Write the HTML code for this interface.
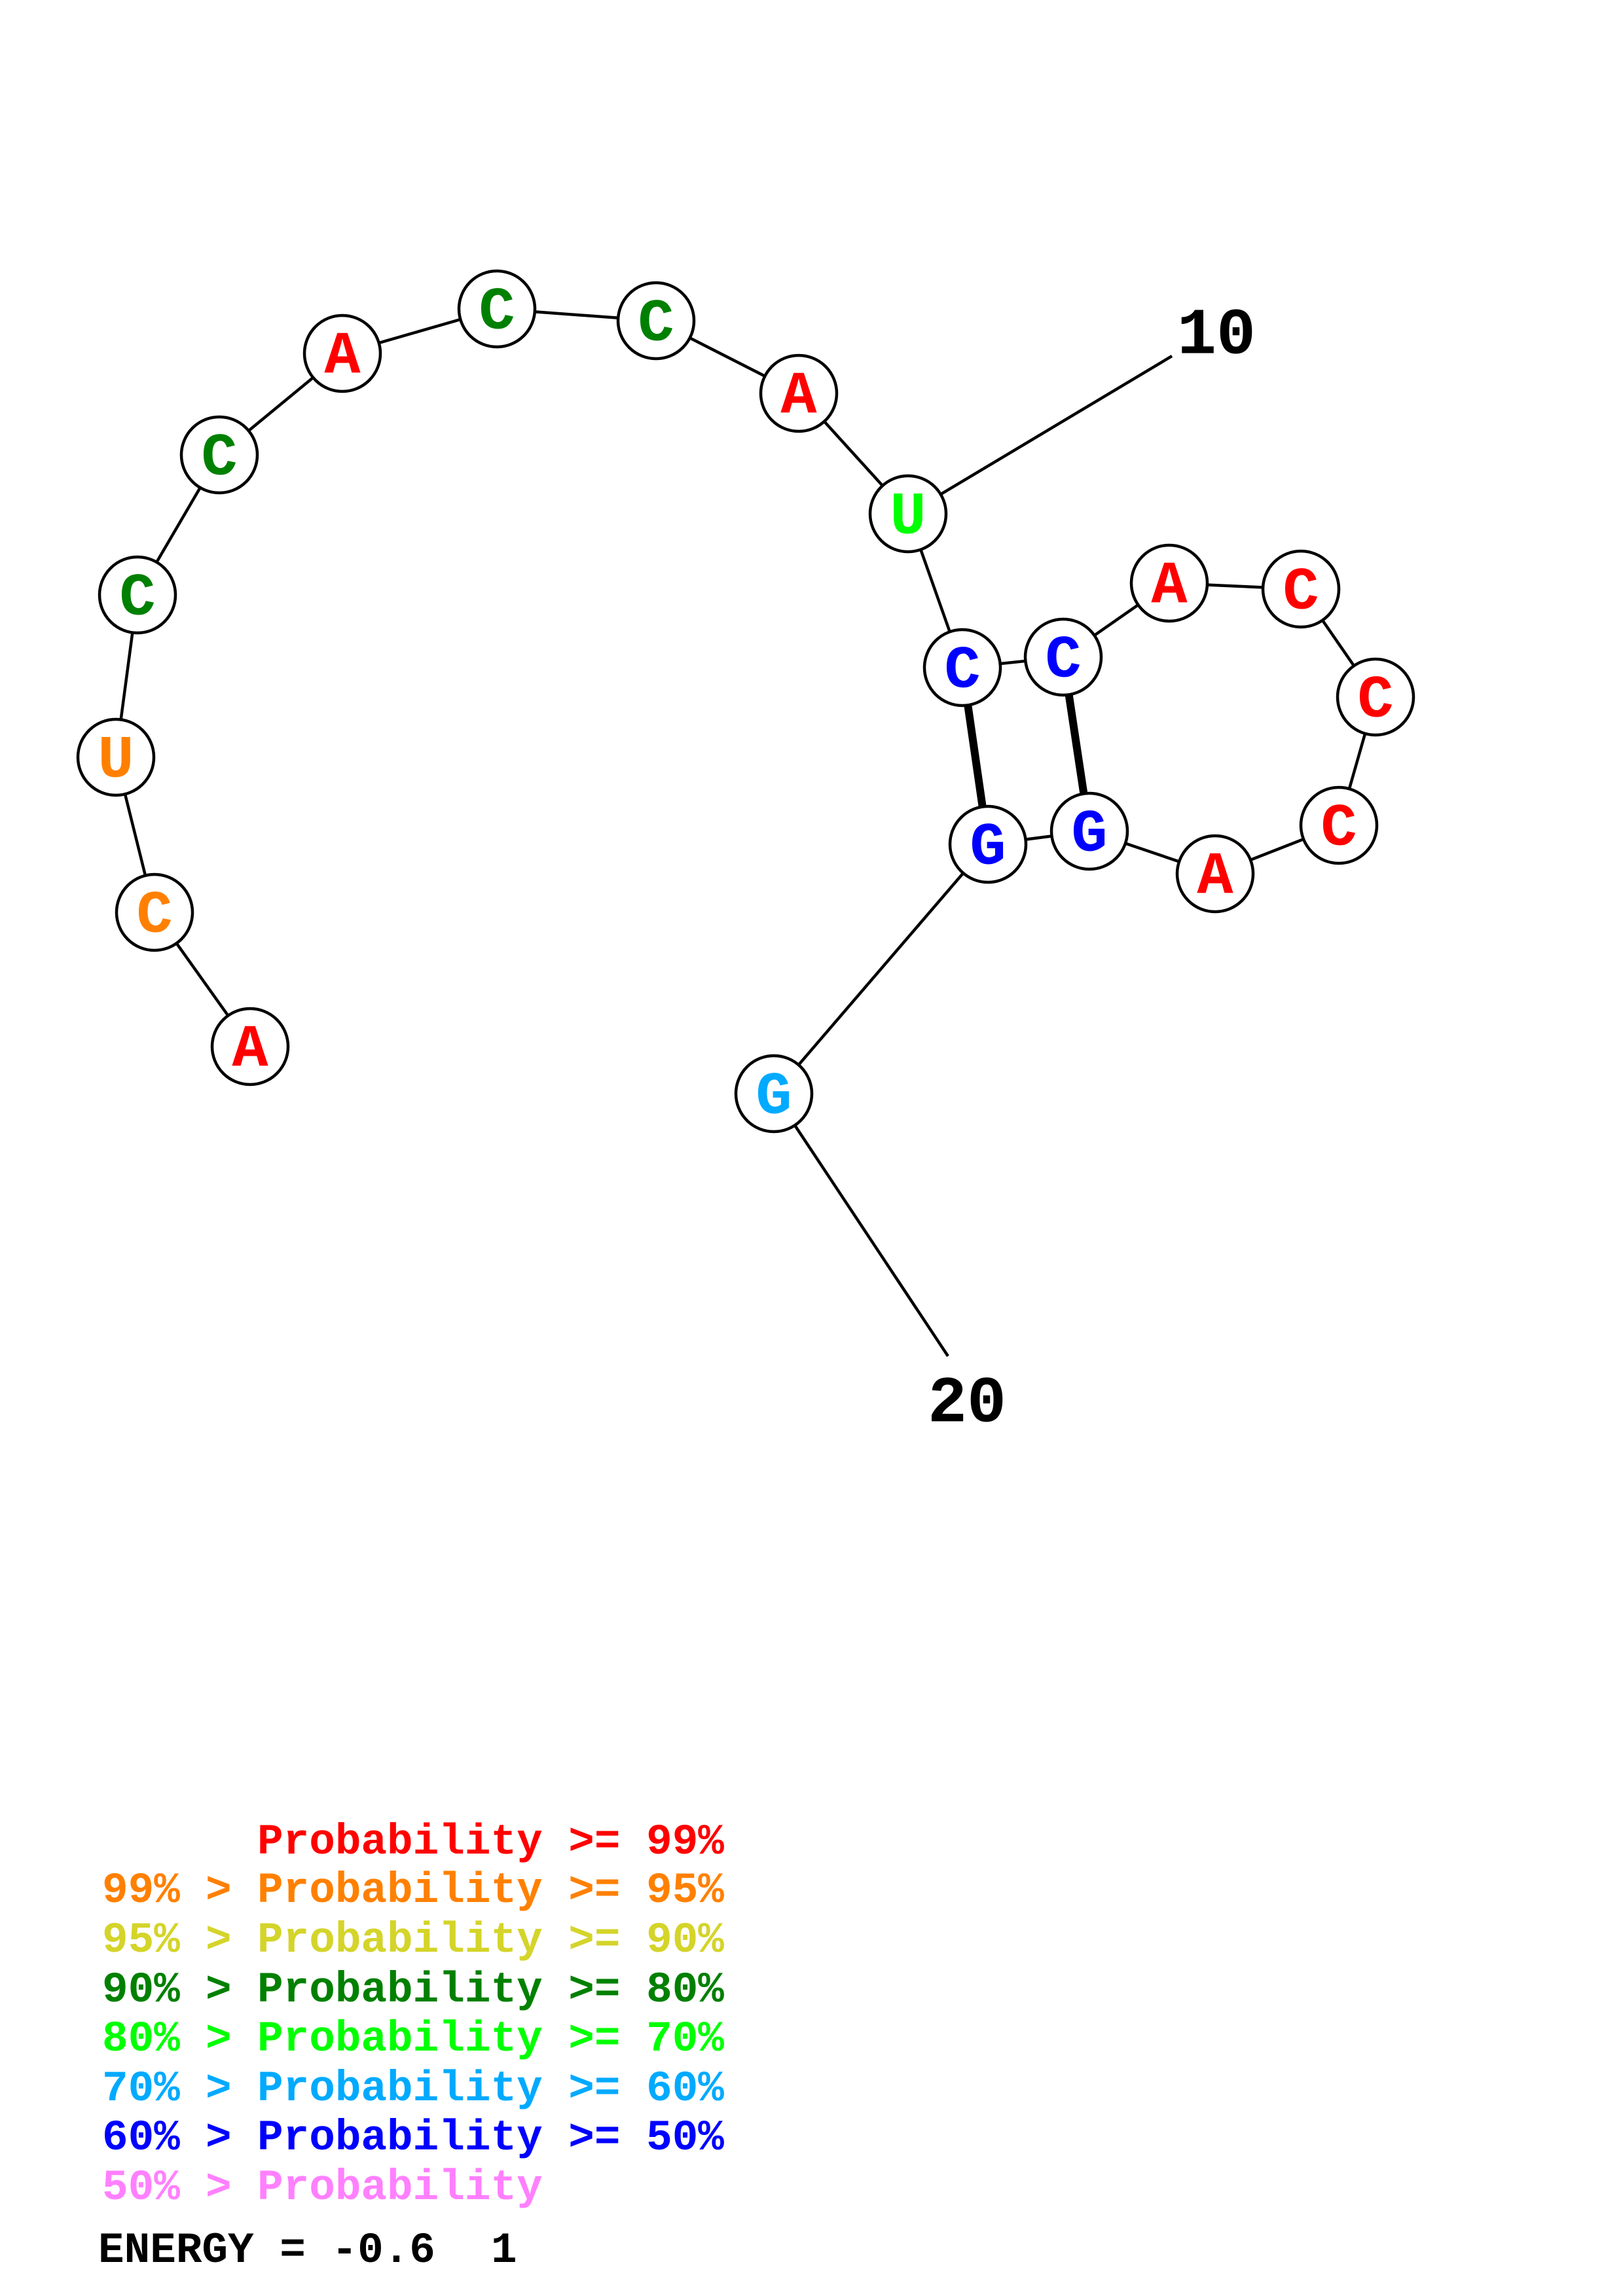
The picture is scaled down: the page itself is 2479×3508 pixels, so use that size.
<!DOCTYPE html>
<html><head><meta charset="utf-8"><style>
html,body{margin:0;padding:0;background:#fff;}
svg{display:block;}
.n{font-family:"Liberation Mono",monospace;font-weight:bold;font-size:92px;text-anchor:middle;dominant-baseline:central;}
.l{font-family:"Liberation Mono",monospace;font-weight:bold;font-size:66px;}
</style></head><body>
<svg width="2479" height="3508" viewBox="0 0 2479 3508" xmlns="http://www.w3.org/2000/svg">
<g transform="translate(-6,-8)">
<g stroke="#000" stroke-width="4.5" fill="none">
<polyline points="388,1607 242,1402 183,1165 216,917 341,703 529,548 765,480 1008,498 1226,609 1393,793 1476,1028 1630,1012 1792,899 1993,908 2107,1073 2051,1269 1862,1343 1670,1278 1515,1298 1188,1679 1454,2080"/>
<line x1="1393" y1="793" x2="1796" y2="552"/>
<line x1="1476" y1="1028" x2="1515" y2="1298" stroke-width="12"/>
<line x1="1630" y1="1012" x2="1670" y2="1278" stroke-width="12"/>
</g>
<g stroke="#000" stroke-width="4.5" fill="#fff">
<circle cx="388" cy="1607" r="58"/><circle cx="242" cy="1402" r="58"/><circle cx="183" cy="1165" r="58"/><circle cx="216" cy="917" r="58"/><circle cx="341" cy="703" r="58"/><circle cx="529" cy="548" r="58"/><circle cx="765" cy="480" r="58"/><circle cx="1008" cy="498" r="58"/><circle cx="1226" cy="609" r="58"/><circle cx="1393" cy="793" r="58"/><circle cx="1476" cy="1028" r="58"/><circle cx="1630" cy="1012" r="58"/><circle cx="1792" cy="899" r="58"/><circle cx="1993" cy="908" r="58"/><circle cx="2107" cy="1073" r="58"/><circle cx="2051" cy="1269" r="58"/><circle cx="1862" cy="1343" r="58"/><circle cx="1670" cy="1278" r="58"/><circle cx="1515" cy="1298" r="58"/><circle cx="1188" cy="1679" r="58"/>
</g>
<g class="n">
<text x="388" y="1612" fill="#ff0000">A</text>
<text x="242" y="1407" fill="#ff8000">C</text>
<text x="183" y="1170" fill="#ff8000">U</text>
<text x="216" y="922" fill="#008000">C</text>
<text x="341" y="708" fill="#008000">C</text>
<text x="529" y="553" fill="#ff0000">A</text>
<text x="765" y="485" fill="#008000">C</text>
<text x="1008" y="503" fill="#008000">C</text>
<text x="1226" y="614" fill="#ff0000">A</text>
<text x="1393" y="798" fill="#00ff00">U</text>
<text x="1476" y="1033" fill="#0000ff">C</text>
<text x="1630" y="1017" fill="#0000ff">C</text>
<text x="1792" y="904" fill="#ff0000">A</text>
<text x="1993" y="913" fill="#ff0000">C</text>
<text x="2107" y="1078" fill="#ff0000">C</text>
<text x="2051" y="1274" fill="#ff0000">C</text>
<text x="1862" y="1348" fill="#ff0000">A</text>
<text x="1670" y="1283" fill="#0000ff">G</text>
<text x="1515" y="1303" fill="#0000ff">G</text>
<text x="1188" y="1684" fill="#00aaff">G</text>
</g>
</g>
<g class="n" style="font-size:100px" fill="#000">
<text x="1858" y="514">10</text>
<text x="1477" y="2146">20</text>
</g>
<g class="l">
<text x="393" y="2832" fill="#ff0000">Probability &gt;= 99%</text>
<text y="2906" fill="#ff8000"><tspan x="156">99%</tspan><tspan x="314">&gt;</tspan><tspan x="393">Probability &gt;= 95%</tspan></text>
<text y="2982" fill="#d4d42a"><tspan x="156">95%</tspan><tspan x="314">&gt;</tspan><tspan x="393">Probability &gt;= 90%</tspan></text>
<text y="3058" fill="#008000"><tspan x="156">90%</tspan><tspan x="314">&gt;</tspan><tspan x="393">Probability &gt;= 80%</tspan></text>
<text y="3133" fill="#00ff00"><tspan x="156">80%</tspan><tspan x="314">&gt;</tspan><tspan x="393">Probability &gt;= 70%</tspan></text>
<text y="3209" fill="#00aaff"><tspan x="156">70%</tspan><tspan x="314">&gt;</tspan><tspan x="393">Probability &gt;= 60%</tspan></text>
<text y="3284" fill="#0000ff"><tspan x="156">60%</tspan><tspan x="314">&gt;</tspan><tspan x="393">Probability &gt;= 50%</tspan></text>
<text y="3360" fill="#ff80ff"><tspan x="156">50%</tspan><tspan x="314">&gt;</tspan><tspan x="393">Probability</tspan></text>
<text y="3456" fill="#000"><tspan x="150">ENERGY = -0.6</tspan><tspan x="750">1</tspan></text>
</g>
</svg>
</body></html>
